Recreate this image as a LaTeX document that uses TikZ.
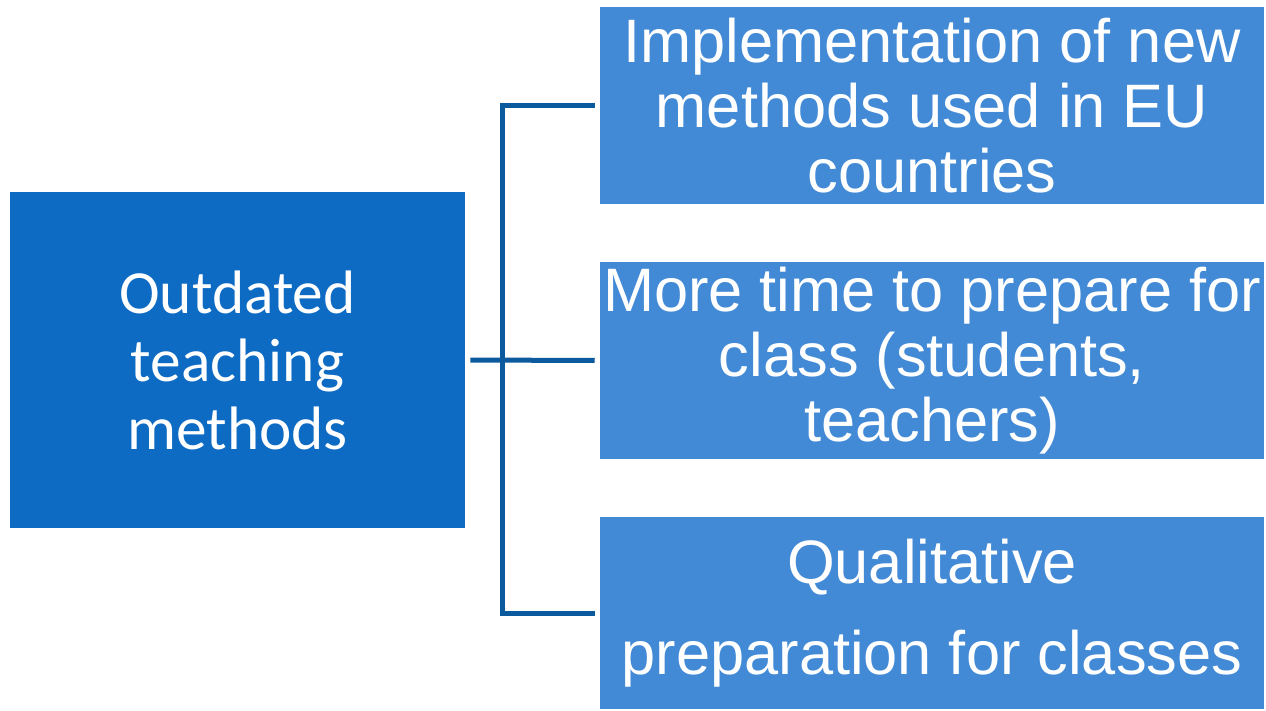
\documentclass[tikz,border=0pt]{standalone}
\usepackage{fontspec}
\setmainfont{Liberation Sans}
\newfontfamily\leftfont{Carlito}
\usepackage{xcolor}
\definecolor{srcblue}{HTML}{0E6BC4}
\definecolor{boxblue}{HTML}{438AD6}
\definecolor{linkblue}{HTML}{0B5A9E}
\tikzset{
    srcbox/.style={fill=srcblue, text=white, align=center, inner sep=0pt,
        minimum width=341.25pt, minimum height=252pt,
        font=\leftfont\fontsize{46}{51}\selectfont},
    itembox/.style={fill=boxblue, text=white, align=center, inner sep=0pt,
        minimum width=498pt, minimum height=147.75pt,
        font=\fontsize{46}{49}\selectfont},
    link/.style={draw=linkblue, line width=3.75pt,
        shorten <=3.75pt, shorten >=3.75pt}
}
\begin{document}
\begin{tikzpicture}[x=0.75pt,y=-0.75pt]
            \useasboundingbox (0,0) rectangle (1266,710);
            \node[srcbox] (src) at (237.5,360) {Outdated\\teaching\\methods};
            \node[itembox] (t1) at (932,105.5) {Implementation of new\\methods used in EU\\countries};
            \node[itembox] (t2) at (932,360.5) {More time to prepare for\\class (students,\\teachers)};
            \node[itembox, minimum height=144pt] (t3) at (932,613) {Qualitative\\[19pt]preparation for classes};
            \coordinate (fork) at (502,360.5);
            \draw[link] (src.east) -- (t2.west);
            \draw[link] (t1.west) -| (fork) |- (t3.west);
        \end{tikzpicture}
\end{document}
